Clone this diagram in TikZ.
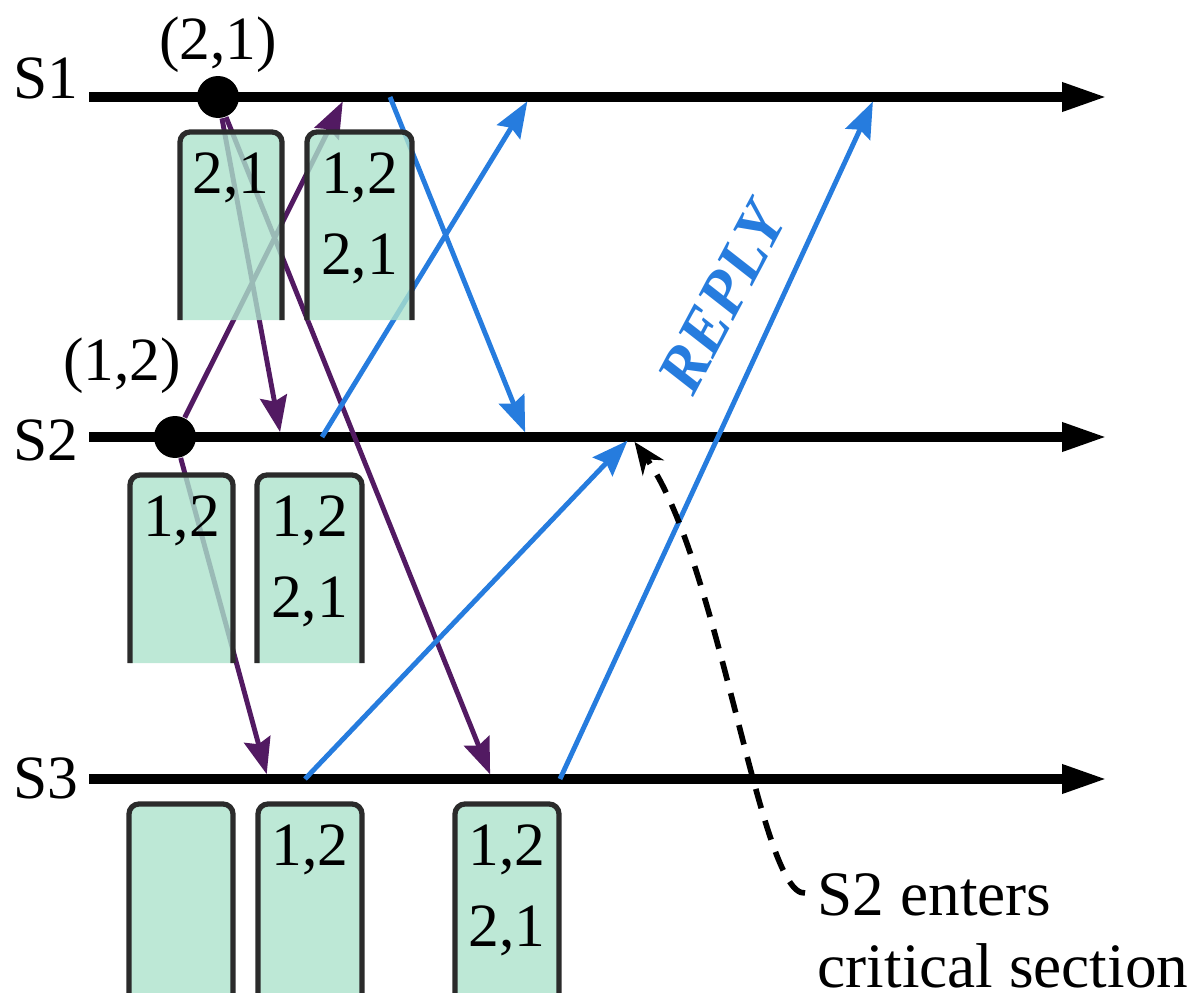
\documentclass[tikz,border=0pt]{standalone}
\usepackage{fontspec}
\setmainfont{LiberationSerif}[Extension=.ttf,UprightFont=*-Regular,BoldFont=*-Bold,ItalicFont=*-Italic,BoldItalicFont=*-BoldItalic]
\usetikzlibrary{arrows.meta}

\definecolor{reqpurple}{RGB}{82,26,98}
\definecolor{repblue}{RGB}{38,124,222}
\definecolor{qfill}{RGB}{172,226,204}
\definecolor{qedge}{RGB}{43,43,43}

\begin{document}
\begin{tikzpicture}[timeline/.style={line width=2.7pt,-{Triangle[length=0.45cm,width=0.27cm]}},
  request/.style={reqpurple,line width=1.4pt,-{Stealth[length=0.36cm,width=0.27cm,inset=0.05cm]},shorten >=0.05cm},
  reply/.style={repblue,line width=1.4pt,-{Stealth[length=0.36cm,width=0.27cm,inset=0.05cm]},shorten >=0.05cm},
  stamp/.style={circle,fill=black,inner sep=0pt,minimum size=0.42cm},
  queue/.style={draw=qedge,line width=1.5pt,fill=qfill,fill opacity=0.8,rounded corners=0.1cm},
  qtext/.style={anchor=north,align=center,inner sep=0pt,font=\fontsize{17.5}{23}\selectfont},
  txt/.style={font=\fontsize{17.5}{21}\selectfont},
  note/.style={line width=1.6pt,dash pattern=on 0.2cm off 0.13cm,-{Stealth[length=0.32cm,width=0.26cm]},shorten >=0.06cm}]
  \useasboundingbox (0,0) rectangle (11.94,-9.93);

  % servers
  \node[txt] (s1) at (0.46,-0.78) {S1};
  \node[txt] (s2) at (0.46,-4.40) {S2};
  \node[txt] (s3) at (0.46,-7.78) {S3};
  \draw[timeline] (0.89,-0.97) -- (11.07,-0.97);
  \draw[timeline] (0.89,-4.37) -- (11.07,-4.37);
  \draw[timeline] (0.89,-7.79) -- (11.07,-7.79);

  % events on the time lines
  \coordinate (s1req) at (3.45,-0.97);
  \coordinate (s1rep) at (3.90,-0.97);
  \coordinate (s1ack2) at (5.30,-0.97);
  \coordinate (s1ack3) at (8.75,-0.97);
  \coordinate (s2req) at (2.81,-4.37);
  \coordinate (s2rep) at (3.22,-4.37);
  \coordinate (s2ack1) at (5.27,-4.37);
  \coordinate (s2cs) at (6.31,-4.37);
  \coordinate (s3req2) at (2.68,-7.79);
  \coordinate (s3rep2) at (3.05,-7.79);
  \coordinate (s3req1) at (4.92,-7.79);
  \coordinate (s3rep1) at (5.60,-7.79);

  \node[stamp] (t1) at (2.18,-0.97) {};
  \node[stamp] (t2) at (1.75,-4.37) {};
  \node[txt] (t1lab) at (2.18,-0.45) {(2,1)};
  \node[txt] (t2lab) at (1.22,-3.66) {(1,2)};

  % requests
  \draw[request] (t1) -- (s2req);
  \draw[request] (t1) -- (s3req1);
  \draw[request] (t2) -- (s1req);
  \draw[request] (t2) -- (s3req2);

  % replies
  \draw[reply] (s1rep) -- (s2ack1);
  \draw[reply] (s2rep) -- (s1ack2);
  \draw[reply] (s3rep2) -- (s2cs);
  \draw[reply] (s3rep1) -- (s1ack3);
  \node[repblue,rotate=62,font=\fontsize{18.5}{22}\selectfont\bfseries\itshape] (replylab) at (7.22,-2.98) {REPLY};

  % request queues
  \draw[queue] (1.80,-3.20) -- (1.80,-1.32) -- (2.82,-1.32) -- (2.82,-3.20);
  \node[qtext] (q11) at (2.31,-1.52) {2,1};
  \draw[queue] (3.07,-3.20) -- (3.07,-1.32) -- (4.12,-1.32) -- (4.12,-3.20);
  \node[qtext] (q12) at (3.595,-1.52) {1,2\\2,1};
  \draw[queue] (1.30,-6.63) -- (1.30,-4.75) -- (2.33,-4.75) -- (2.33,-6.63);
  \node[qtext] (q21) at (1.815,-4.95) {1,2};
  \draw[queue] (2.57,-6.63) -- (2.57,-4.75) -- (3.62,-4.75) -- (3.62,-6.63);
  \node[qtext] (q22) at (3.095,-4.95) {1,2\\2,1};
  \draw[queue] (1.29,-9.93) -- (1.29,-8.04) -- (2.33,-8.04) -- (2.33,-9.93);
  \draw[queue] (2.58,-9.93) -- (2.58,-8.04) -- (3.62,-8.04) -- (3.62,-9.93);
  \node[qtext] (q32) at (3.10,-8.24) {1,2};
  \draw[queue] (4.55,-9.93) -- (4.55,-8.04) -- (5.59,-8.04) -- (5.59,-9.93);
  \node[qtext] (q33) at (5.07,-8.24) {1,2\\2,1};

  % critical section
  \node[txt,anchor=north west,align=left,inner sep=0pt,font=\fontsize{18}{20.5}\selectfont] (csnote) at (8.17,-8.73) {S2 enters\\critical section};
  \draw[note] ([shift={(-0.12,-0.20)}]csnote.north west) .. controls (7.60,-8.97) and (7.20,-5.60) .. (s2cs);
\end{tikzpicture}
\end{document}
